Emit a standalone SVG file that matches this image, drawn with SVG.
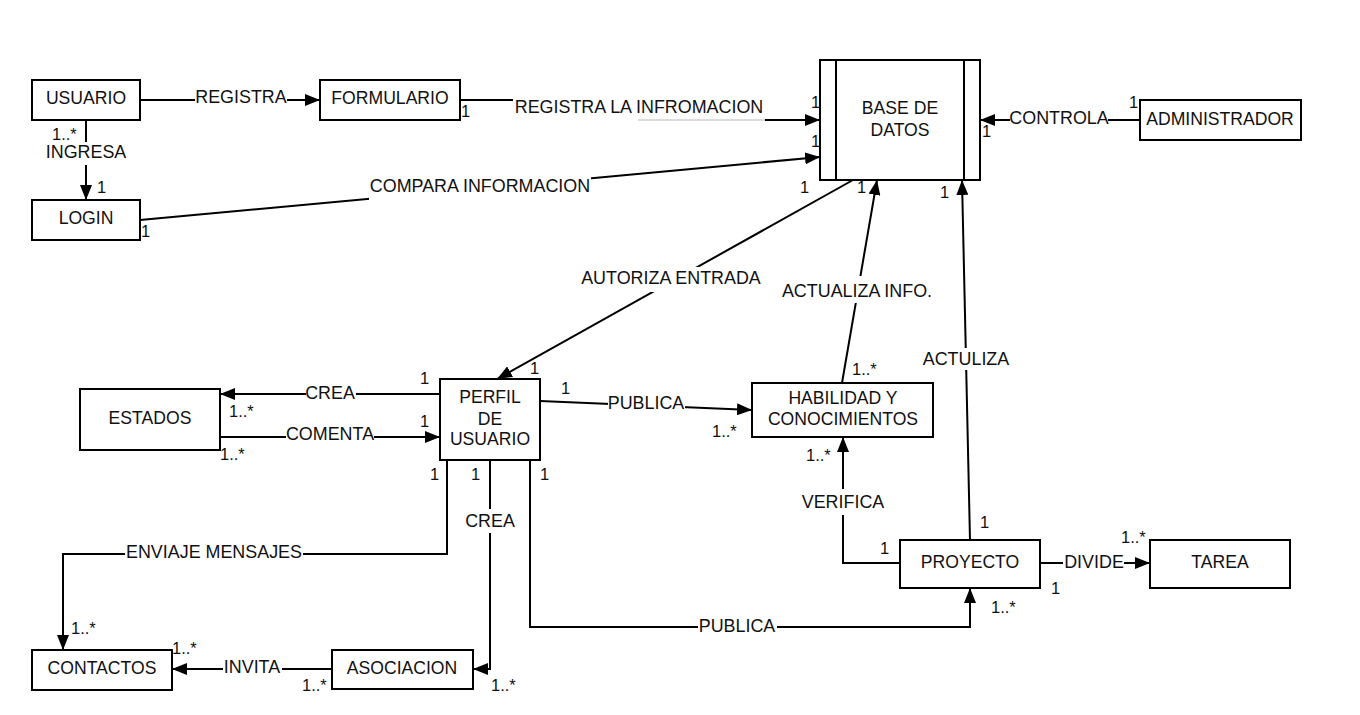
<svg xmlns="http://www.w3.org/2000/svg" width="1360" height="715" viewBox="0 0 1360 715">
  <defs>
    <marker id="ah" markerUnits="userSpaceOnUse" markerWidth="16" markerHeight="12" refX="15" refY="6" orient="auto">
      <path d="M0,0 L15,6 L0,12 z" fill="#000"/>
    </marker>
    <style>
      .box { fill: #fff; stroke: #000; stroke-width: 2; }
      .edge { fill: none; stroke: #000; stroke-width: 2; }
      .arrow { marker-end: url(#ah); }
      .lbl-bg { fill: #fff; stroke: none; }
      text { font-family: "Liberation Sans", Arial, sans-serif; fill: #111; }
      .name { font-size: 17.6px; text-anchor: middle; }
      .lbl { font-size: 17.9px; text-anchor: middle; }
      .mult { font-size: 16.5px; }
    </style>
  </defs>

  <rect width="1360" height="715" fill="#fff"/>

  <!-- connectors -->
  <g id="connectors">
    <!-- USUARIO -> FORMULARIO -->
    <path class="edge arrow" d="M140,100 H320"/>
    <rect class="lbl-bg" x="195" y="88" width="92" height="20"/>
    <text class="lbl" x="241" y="103">REGISTRA</text>

    <!-- USUARIO -> LOGIN -->
    <path class="edge arrow" d="M86,120 V200"/>
    <rect class="lbl-bg" x="45" y="142" width="82" height="23"/>
    <text class="lbl" x="86" y="158">INGRESA</text>

    <!-- FORMULARIO -> BASE DE DATOS -->
    <path class="edge arrow" d="M460,100 H640 V120 H820"/>
    <rect class="lbl-bg" x="513" y="94" width="252" height="28"/>
    <line x1="638" y1="120" x2="765" y2="120" stroke="#dcdcdc" stroke-width="2"/>
    <text class="lbl" x="639" y="113">REGISTRA LA INFROMACION</text>

    <!-- LOGIN -> BASE DE DATOS -->
    <path class="edge arrow" d="M140,220 L820,157"/>
    <rect class="lbl-bg" x="369" y="174" width="222" height="26"/>
    <text class="lbl" x="480" y="192">COMPARA INFORMACION</text>

    <!-- ADMINISTRADOR -> BASE DE DATOS -->
    <path class="edge arrow" d="M1140,120 H980"/>
    <rect class="lbl-bg" x="1010" y="108" width="98" height="20"/>
    <text class="lbl" x="1059" y="124">CONTROLA</text>

    <!-- BASE DE DATOS -> PERFIL DE USUARIO -->
    <path class="edge arrow" d="M853,180 L497,379"/>
    <rect class="lbl-bg" x="580" y="267" width="182" height="25"/>
    <text class="lbl" x="671" y="284">AUTORIZA ENTRADA</text>

    <!-- HABILIDAD -> BASE DE DATOS -->
    <path class="edge arrow" d="M842,383 L877,180"/>
    <rect class="lbl-bg" x="781" y="276" width="153" height="27"/>
    <text class="lbl" x="857" y="297">ACTUALIZA INFO.</text>

    <!-- PROYECTO -> BASE DE DATOS -->
    <path class="edge arrow" d="M970,540 L962,180"/>
    <rect class="lbl-bg" x="920" y="348" width="92" height="22"/>
    <text class="lbl" x="966" y="365">ACTULIZA</text>

    <!-- PERFIL -> HABILIDAD -->
    <path class="edge arrow" d="M540,401 L752,410"/>
    <rect class="lbl-bg" x="608" y="393" width="77" height="22"/>
    <text class="lbl" x="646" y="409">PUBLICA</text>

    <!-- PERFIL -> ESTADOS -->
    <path class="edge arrow" d="M440,394 H220"/>
    <rect class="lbl-bg" x="306" y="383" width="50" height="20"/>
    <text class="lbl" x="330" y="399">CREA</text>

    <!-- ESTADOS -> PERFIL -->
    <path class="edge arrow" d="M220,437 H440"/>
    <rect class="lbl-bg" x="286" y="425" width="88" height="20"/>
    <text class="lbl" x="330" y="440">COMENTA</text>

    <!-- PERFIL -> CONTACTOS -->
    <path class="edge arrow" d="M447,460 V554 H63 V650"/>
    <rect class="lbl-bg" x="125" y="543" width="178" height="20"/>
    <text class="lbl" x="214" y="558">ENVIAJE MENSAJES</text>

    <!-- PERFIL -> ASOCIACION -->
    <path class="edge arrow" d="M490,460 V669 H473"/>
    <rect class="lbl-bg" x="464" y="509" width="52" height="24"/>
    <text class="lbl" x="490" y="527">CREA</text>

    <!-- PERFIL -> PROYECTO -->
    <path class="edge arrow" d="M530,460 V627 H970 V588"/>
    <rect class="lbl-bg" x="698" y="616" width="79" height="20"/>
    <text class="lbl" x="737" y="632">PUBLICA</text>

    <!-- ASOCIACION -> CONTACTOS -->
    <path class="edge arrow" d="M332,669 H172"/>
    <rect class="lbl-bg" x="223" y="658" width="59" height="20"/>
    <text class="lbl" x="252" y="673">INVITA</text>

    <!-- PROYECTO -> HABILIDAD -->
    <path class="edge arrow" d="M900,563 H843 V437"/>
    <rect class="lbl-bg" x="800" y="489" width="86" height="26"/>
    <text class="lbl" x="843" y="508">VERIFICA</text>

    <!-- PROYECTO -> TAREA -->
    <path class="edge arrow" d="M1040,563 H1150"/>
    <rect class="lbl-bg" x="1063" y="552" width="61" height="20"/>
    <text class="lbl" x="1094" y="568">DIVIDE</text>

    <!-- multiplicities -->
    <g class="mults">
      <text class="mult" x="52" y="140">1..*</text>
      <text class="mult" x="97" y="193">1</text>
      <text class="mult" x="461" y="117">1</text>
      <text class="mult" x="141" y="237">1</text>
      <text class="mult" x="811" y="108">1</text>
      <text class="mult" x="811" y="147">1</text>
      <text class="mult" x="800" y="193">1</text>
      <text class="mult" x="857" y="193">1</text>
      <text class="mult" x="940" y="198">1</text>
      <text class="mult" x="982" y="137">1</text>
      <text class="mult" x="1129" y="108">1</text>
      <text class="mult" x="530" y="374">1</text>
      <text class="mult" x="852" y="375">1..*</text>
      <text class="mult" x="561" y="394">1</text>
      <text class="mult" x="712" y="437">1..*</text>
      <text class="mult" x="806" y="461">1..*</text>
      <text class="mult" x="420" y="384">1</text>
      <text class="mult" x="229" y="417">1..*</text>
      <text class="mult" x="420" y="427">1</text>
      <text class="mult" x="220" y="460">1..*</text>
      <text class="mult" x="430" y="480">1</text>
      <text class="mult" x="471" y="480">1</text>
      <text class="mult" x="540" y="480">1</text>
      <text class="mult" x="71" y="634">1..*</text>
      <text class="mult" x="172" y="654">1..*</text>
      <text class="mult" x="302" y="691">1..*</text>
      <text class="mult" x="491" y="691">1..*</text>
      <text class="mult" x="991" y="613">1..*</text>
      <text class="mult" x="1051" y="594">1</text>
      <text class="mult" x="1121" y="543">1..*</text>
      <text class="mult" x="880" y="554">1</text>
      <text class="mult" x="980" y="528">1</text>
    </g>
  </g>

  <!-- nodes -->
  <g id="usuario">
    <rect class="box" x="32" y="80" width="108" height="40"/>
    <text class="name" x="86" y="104">USUARIO</text>
  </g>
  <g id="formulario">
    <rect class="box" x="320" y="80" width="140" height="40"/>
    <text class="name" x="390" y="104">FORMULARIO</text>
  </g>
  <g id="login">
    <rect class="box" x="32" y="200" width="108" height="40"/>
    <text class="name" x="86" y="224">LOGIN</text>
  </g>
  <g id="base-de-datos">
    <rect class="box" x="820" y="60" width="160" height="120"/>
    <line x1="836" y1="60" x2="836" y2="180" stroke="#000" stroke-width="2"/>
    <line x1="964" y1="60" x2="964" y2="180" stroke="#000" stroke-width="2"/>
    <text class="name" x="900" y="114">BASE DE</text>
    <text class="name" x="900" y="136">DATOS</text>
  </g>
  <g id="administrador">
    <rect class="box" x="1140" y="100" width="161" height="40"/>
    <text class="name" x="1220" y="125">ADMINISTRADOR</text>
  </g>
  <g id="estados">
    <rect class="box" x="80" y="389" width="140" height="61"/>
    <text class="name" x="150" y="424">ESTADOS</text>
  </g>
  <g id="perfil-de-usuario">
    <rect class="box" x="440" y="379" width="100" height="81"/>
    <text class="name" x="490" y="403">PERFIL</text>
    <text class="name" x="490" y="425">DE</text>
    <text class="name" x="490" y="445">USUARIO</text>
  </g>
  <g id="habilidad">
    <rect class="box" x="752" y="383" width="181" height="54"/>
    <text class="name" x="843" y="404">HABILIDAD Y</text>
    <text class="name" x="843" y="425">CONOCIMIENTOS</text>
  </g>
  <g id="proyecto">
    <rect class="box" x="900" y="540" width="140" height="48"/>
    <text class="name" x="970" y="568">PROYECTO</text>
  </g>
  <g id="tarea">
    <rect class="box" x="1150" y="540" width="140" height="48"/>
    <text class="name" x="1220" y="568">TAREA</text>
  </g>
  <g id="contactos">
    <rect class="box" x="32" y="650" width="140" height="40"/>
    <text class="name" x="102" y="674">CONTACTOS</text>
  </g>
  <g id="asociacion">
    <rect class="box" x="332" y="650" width="141" height="39"/>
    <text class="name" x="402" y="674">ASOCIACION</text>
  </g>
</svg>
